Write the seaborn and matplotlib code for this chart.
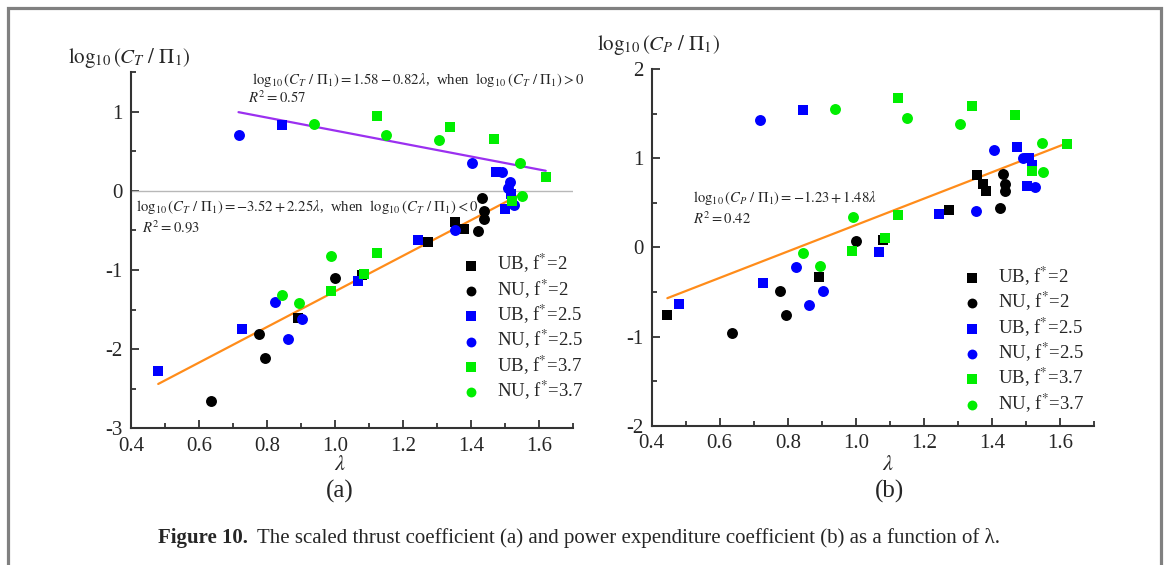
import numpy as np
import pandas as pd
import matplotlib
matplotlib.use("Agg")
import matplotlib.pyplot as plt
from matplotlib.ticker import MultipleLocator, FormatStrFormatter
from matplotlib.patches import Rectangle
import seaborn as sns

# ---------------- data ----------------
groups = ["UB2", "NU2", "UB25", "NU25", "UB37", "NU37"]
group_labels = [r"UB, f$^{*}$=2", r"NU, f$^{*}$=2", r"UB, f$^{*}$=2.5",
                r"NU, f$^{*}$=2.5", r"UB, f$^{*}$=3.7", r"NU, f$^{*}$=3.7"]
group_colors = ["#000000", "#000000", "#0000ff", "#0000ff", "#00ee00", "#00ee00"]
group_markers = ["s", "o", "s", "o", "s", "o"]

# panel (a): lambda and log10(C_T/Pi_1)
a_lam_UB2 = [1.353, 1.380, 1.272, 1.080, 0.890]
a_val_UB2 = [-0.40, -0.483, -0.65, -1.067, -1.61]
a_lam_NU2 = [1.431, 1.438, 1.438, 1.421, 1.000, 0.775, 0.794, 0.634]
a_val_NU2 = [-0.097, -0.256, -0.36, -0.51, -1.097, -1.81, -2.11, -2.65]
a_lam_UB25 = [0.844, 1.472, 1.517, 1.500, 1.244, 1.067, 0.727, 0.480]
a_val_UB25 = [0.835, 0.237, -0.04, -0.231, -0.62, -1.134, -1.75, -2.28]
a_lam_NU25 = [0.716, 1.403, 1.490, 1.514, 1.509, 1.351, 1.526, 0.822, 0.902, 0.862]
a_val_NU25 = [0.71, 0.355, 0.237, 0.114, 0.04, -0.496, -0.18, -1.41, -1.62, -1.87]
a_lam_UB37 = [1.122, 1.339, 1.467, 1.619, 1.519, 1.122, 1.085, 0.987]
a_val_UB37 = [0.945, 0.80, 0.65, 0.18, -0.13, -0.78, -1.05, -1.265]
a_lam_NU37 = [0.938, 1.149, 1.304, 1.543, 1.548, 0.989, 0.843, 0.893]
a_val_NU37 = [0.84, 0.71, 0.64, 0.35, -0.063, -0.83, -1.315, -1.42]

# panel (b): lambda and log10(C_P/Pi_1)
b_lam_UB2 = [1.356, 1.374, 1.382, 1.275, 1.081, 0.891, 0.446]
b_val_UB2 = [0.807, 0.706, 0.635, 0.418, 0.082, -0.33, -0.762]
b_lam_NU2 = [1.433, 1.439, 1.439, 1.424, 1.001, 0.777, 0.796, 0.635]
b_val_NU2 = [0.82, 0.713, 0.631, 0.437, 0.074, -0.493, -0.762, -0.957]
b_lam_UB25 = [0.846, 1.475, 1.509, 1.517, 1.503, 1.245, 1.069, 0.727, 0.481]
b_val_UB25 = [1.54, 1.124, 0.997, 0.923, 0.687, 0.373, -0.056, -0.397, -0.639]
b_lam_NU25 = [0.718, 1.406, 1.490, 1.528, 1.353, 0.825, 0.903, 0.863]
b_val_NU25 = [1.427, 1.09, 1.005, 0.672, 0.41, -0.224, -0.493, -0.643]
b_lam_UB37 = [1.124, 1.341, 1.469, 1.622, 1.519, 1.124, 1.087, 0.989]
b_val_UB37 = [1.677, 1.58, 1.487, 1.161, 0.859, 0.359, 0.10, -0.041]
b_lam_NU37 = [0.940, 1.151, 1.307, 1.547, 1.550, 0.991, 0.845, 0.896]
b_val_NU37 = [1.55, 1.453, 1.382, 1.173, 0.84, 0.34, -0.067, -0.21]

# fitted lines (coefficients from the figure)
fit_a_pos = (1.58, -0.82)
fit_a_neg = (-3.52, 2.25)
fit_b = (-1.23, 1.48)

x_ticks_major = 0.2
a_ylim = (-3, 1.5)
b_ylim = (-2, 2)
xlim = (0.4, 1.7)

# ---------------- build frames ----------------
def frame(prefix):
    rows = []
    for g in groups:
        lam = globals()[f"{prefix}_lam_{g}"]
        val = globals()[f"{prefix}_val_{g}"]
        for l, v in zip(lam, val):
            rows.append({"lam": l, "val": v, "group": g})
    return pd.DataFrame(rows)

df_a = frame("a")
df_b = frame("b")

# ---------------- style ----------------
sns.set_style("ticks")
plt.rcParams["font.family"] = ["Liberation Serif", "DejaVu Serif"]
plt.rcParams["mathtext.fontset"] = "stix"
plt.rcParams["axes.unicode_minus"] = False

W, H = 1165, 565
fig = plt.figure(figsize=(W / 100, H / 100), dpi=100)

def fx(x):
    return x / W

def fy(y):
    return 1 - y / H

ax_a = fig.add_axes([fx(131), fy(428.3), fx(573.3) - fx(131), fy(72) - fy(428.3)])
ax_b = fig.add_axes([fx(651.7), fy(425.7), fx(1094) - fx(651.7), fy(69) - fy(425.7)])

def draw(ax, df, ylim):
    for g, lab, c, m in zip(groups, group_labels, group_colors, group_markers):
        sub = df[df.group == g]
        sns.scatterplot(data=sub, x="lam", y="val", ax=ax, color=c, marker=m,
                        s=52 if m == "s" else 62, linewidth=0, label=lab, zorder=3)
    ax.set_xlim(*xlim)
    ax.set_ylim(*ylim)
    ax.xaxis.set_major_locator(MultipleLocator(x_ticks_major))
    ax.xaxis.set_minor_locator(MultipleLocator(0.1))
    ax.yaxis.set_major_locator(MultipleLocator(1))
    ax.yaxis.set_minor_locator(MultipleLocator(0.5))
    ax.xaxis.set_major_formatter(FormatStrFormatter("%.1f"))
    ax.yaxis.set_major_formatter(FormatStrFormatter("%d"))
    ax.tick_params(which="major", direction="in", length=6, width=1.3,
                   labelsize=15, color="#333333", pad=6)
    ax.tick_params(which="minor", direction="in", length=3.5, width=1.3, color="#333333")
    for s in ["top", "right"]:
        ax.spines[s].set_visible(False)
    for s in ["left", "bottom"]:
        ax.spines[s].set_linewidth(1.5)
        ax.spines[s].set_color("#333333")
    ax.set_xlabel("")
    ax.set_ylabel("")
    ax.patch.set_alpha(0)

draw(ax_a, df_a, a_ylim)
draw(ax_b, df_b, b_ylim)

# zero line in (a)
ax_a.axhline(0, color="#b8b8b8", lw=1.0, zorder=1)

# fit lines
neg = df_a[df_a.val < 0]
pos = df_a[df_a.val > 0]
xl = np.array([neg.lam.min(), neg.lam.max()])
ax_a.plot(xl, fit_a_neg[0] + fit_a_neg[1] * xl, color="#ff8c1a", lw=1.6, zorder=2)
xp = np.array([pos.lam.min(), pos.lam.max()])
ax_a.plot(xp, fit_a_pos[0] + fit_a_pos[1] * xp, color="#9b30f0", lw=1.6, zorder=2)
xb = np.array([df_b.lam.min(), df_b.lam.max()])
ax_b.plot(xb, fit_b[0] + fit_b[1] * xb, color="#ff8c1a", lw=1.6, zorder=2)

# legends
for ax, anchor in [(ax_a, (0.714, 0.531)), (ax_b, (0.669, 0.488))]:
    leg = ax.legend(loc="upper left", bbox_to_anchor=anchor, frameon=False,
                    fontsize=13.5, handletextpad=0.8, labelspacing=0.12,
                    borderpad=0.2, handlelength=1.2, markerscale=0.9)

# annotations
eq_fs = 10.6
fig.text(fx(252), fy(80), r"$\log_{10}(C_T\ /\ \Pi_1) = 1.58 - 0.82\lambda$,  when  $\log_{10}(C_T\ /\ \Pi_1) > 0$",
         fontsize=eq_fs, va="center", ha="left")
fig.text(fx(248), fy(98), r"$R^2 = 0.57$", fontsize=eq_fs, va="center", ha="left")
fig.text(fx(136), fy(207), r"$\log_{10}(C_T\ /\ \Pi_1) = -3.52 + 2.25\lambda$,  when  $\log_{10}(C_T\ /\ \Pi_1) < 0$",
         fontsize=eq_fs, va="center", ha="left")
fig.text(fx(142), fy(228), r"$R^2 = 0.93$", fontsize=eq_fs, va="center", ha="left")
fig.text(fx(693), fy(198), r"$\log_{10}(C_P\ /\ \Pi_1) = -1.23 + 1.48\lambda$",
         fontsize=10.5, va="center", ha="left")
fig.text(fx(693), fy(219), r"$R^2 = 0.42$", fontsize=10.5, va="center", ha="left")

# axis titles
fig.text(fx(68), fy(58), r"$\log_{10}(C_T\ /\ \Pi_1)$", fontsize=15, va="center", ha="left")
fig.text(fx(597), fy(45), r"$\log_{10}(C_P\ /\ \Pi_1)$", fontsize=15, va="center", ha="left")
fig.text(fx(340), fy(465), r"$\lambda$", fontsize=16, va="center", ha="center")
fig.text(fx(888), fy(465), r"$\lambda$", fontsize=16, va="center", ha="center")
fig.text(fx(340), fy(491), "(a)", fontsize=18, va="center", ha="center")
fig.text(fx(890), fy(491), "(b)", fontsize=18, va="center", ha="center")

# caption
fig.text(fx(158), fy(538), "Figure 10.", fontsize=15, fontweight="bold", va="center", ha="left")
fig.text(fx(257), fy(538), "The scaled thrust coefficient (a) and power expenditure coefficient (b) as a function of \u03bb.",
         fontsize=15, va="center", ha="left")

# outer border
fig.add_artist(Rectangle((fx(7.5), -0.1), fx(1160.5) - fx(7.5), fy(7.5) + 0.1,
                         transform=fig.transFigure, fill=False, edgecolor="#808080",
                         lw=2.3, clip_on=False))

fig.savefig("out.png", dpi=100)
